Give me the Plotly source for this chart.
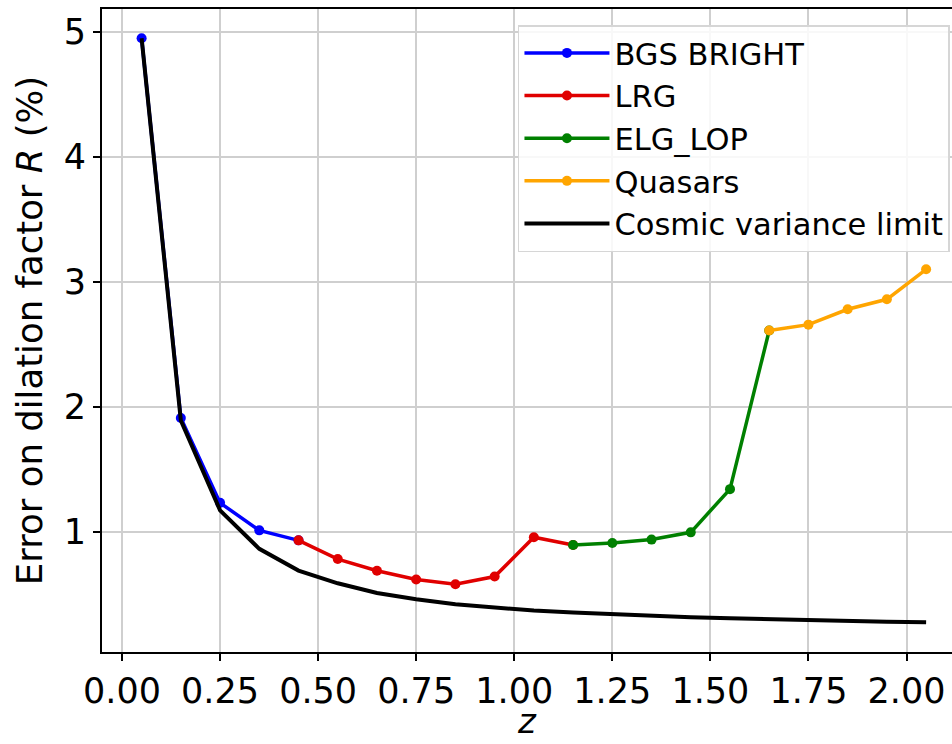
import plotly.graph_objects as go

# Data
bgs_z = [0.05, 0.15, 0.25, 0.35, 0.45]
bgs_err = [4.95, 1.91, 1.23, 1.01, 0.93]

lrg_z = [0.45, 0.55, 0.65, 0.75, 0.85, 0.95, 1.05, 1.15]
lrg_err = [0.93, 0.78, 0.687, 0.616, 0.579, 0.64, 0.955, 0.892]

elg_z = [1.15, 1.25, 1.35, 1.45, 1.55, 1.65]
elg_err = [0.892, 0.909, 0.936, 0.994, 1.34, 2.61]

qso_z = [1.65, 1.75, 1.85, 1.95, 2.05]
qso_err = [2.61, 2.657, 2.78, 2.86, 3.10]

cv_z = [0.05, 0.15, 0.25, 0.35, 0.45, 0.55, 0.65, 0.75, 0.85, 0.95, 1.05,
        1.15, 1.25, 1.35, 1.45, 1.55, 1.65, 1.75, 1.85, 1.95, 2.05]
cv_err = [4.95, 1.89, 1.17, 0.862, 0.688, 0.586, 0.509, 0.458, 0.418, 0.39, 0.368,
          0.352, 0.338, 0.325, 0.315, 0.306, 0.298, 0.29, 0.284, 0.279, 0.274]

x_ticks = [0.0, 0.25, 0.5, 0.75, 1.0, 1.25, 1.5, 1.75, 2.0]
x_ticklabels = ["0.00", "0.25", "0.50", "0.75", "1.00", "1.25", "1.50", "1.75", "2.00"]
y_ticks = [1, 2, 3, 4, 5]

FONT = "DejaVu Sans"

fig = go.Figure()
series = [
    ("BGS BRIGHT", bgs_z, bgs_err, "#0000ff"),
    ("LRG", lrg_z, lrg_err, "#e00000"),
    ("ELG_LOP", elg_z, elg_err, "#008000"),
    ("Quasars", qso_z, qso_err, "#ffa500"),
]
for name, xs, ys, col in series:
    fig.add_trace(go.Scatter(x=xs, y=ys, name=name, mode="lines+markers",
                             line=dict(color=col, width=3.5),
                             marker=dict(color=col, size=10)))
fig.add_trace(go.Scatter(x=cv_z, y=cv_err, name="Cosmic variance limit", mode="lines",
                         line=dict(color="black", width=4)))

fig.update_layout(
    width=952, height=744,
    paper_bgcolor="white", plot_bgcolor="white",
    margin=dict(l=102, r=0, t=9, b=92),
    font=dict(family=FONT, color="black"),
    legend=dict(x=0.9976, y=0.975, xanchor="right", yanchor="top",
                font=dict(size=30.5, family=FONT), itemwidth=85,
                bgcolor="rgba(255,255,255,0.85)", bordercolor="#d6d6d6", borderwidth=1.5),
    annotations=[dict(text="<i>z</i>", xref="paper", yref="paper", x=0.5, y=-0.107,
                      xanchor="center", yanchor="middle", showarrow=False,
                      font=dict(size=34, family=FONT, color="black"))],
)
fig.update_xaxes(range=[-0.051, 2.116], tickvals=x_ticks, ticktext=x_ticklabels,
                 tickfont=dict(size=35), showgrid=True, gridcolor="#cfcfcf", gridwidth=2,
                 showline=True, linecolor="black", linewidth=2, mirror=True,
                 ticks="outside", ticklen=7, tickwidth=2, tickcolor="black", zeroline=False,
                 automargin=False)
fig.update_yaxes(range=[0.036, 5.184], tickvals=y_ticks,
                 tickfont=dict(size=35), showgrid=True, gridcolor="#cfcfcf", gridwidth=2,
                 showline=True, linecolor="black", linewidth=2, mirror=False,
                 ticks="outside", ticklen=7, tickwidth=2, tickcolor="black", zeroline=False,
                 automargin=False,
                 title=dict(text="Error on dilation factor <i>R</i> (%)", font=dict(size=35.5), standoff=10))

fig.write_html("out.html", config={"displayModeBar": False},
               post_script="document.body.style.margin='0';document.body.style.overflow='hidden';")
